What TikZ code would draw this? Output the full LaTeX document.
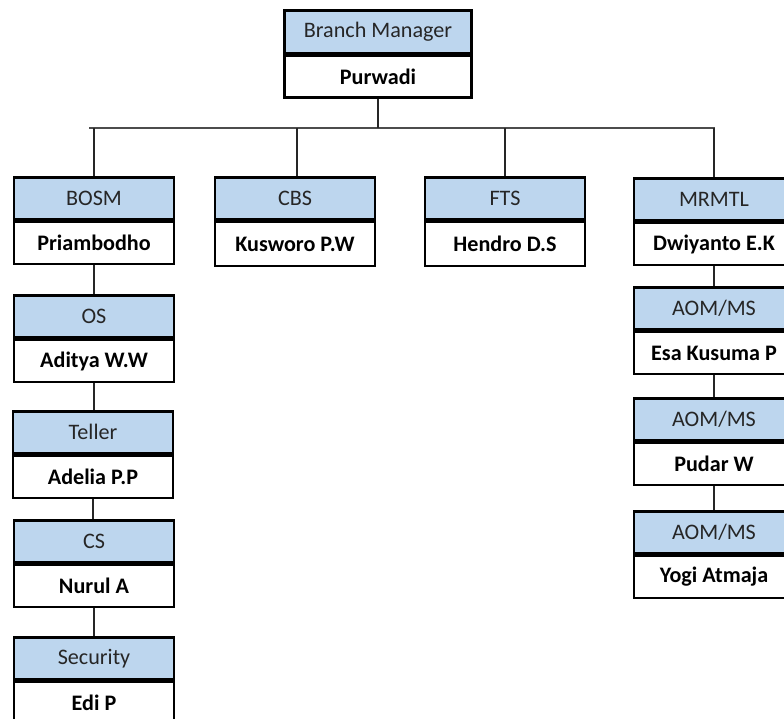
\documentclass[tikz,border=0pt]{standalone}
\usepackage{fontspec}
\setmainfont{Carlito}
\definecolor{hdrblue}{RGB}{189,214,238}
\definecolor{hdrtext}{RGB}{38,38,38}
\begin{document}
\begin{tikzpicture}[x=0.75pt,y=-0.75pt,
  box/.style={draw=black, line width=2pt, minimum width=120pt, minimum height=31.5pt, inner sep=0pt,
    font=\fontsize{16.6}{19}\selectfont, anchor=north},
  hdr/.style={box, fill=hdrblue, text=hdrtext},
  body/.style={box, fill=white, text=black, font=\fontsize{16.6}{19}\selectfont\bfseries},
  conn/.style={line width=1.1pt, draw=black!85}]
\path[use as bounding box, clip] (0,0) rectangle (784,718);
\fill[white] (0,0) rectangle (784,718);

% top
\node[hdr, minimum width=140pt, minimum height=32pt] (bmH) at (378,9) {Branch Manager};
\node[body, minimum width=140pt, minimum height=31.5pt] (bmB) at (bmH.south) {Purwadi};

% second row
\node[hdr] (bosmH) at (94,176) {BOSM};
\node[body] (bosmB) at (bosmH.south) {Priambodho};
\node[hdr] (cbsH) at (295,176) {CBS};
\node[body, minimum height=33pt] (cbsB) at (cbsH.south) {Kusworo P.W};
\node[hdr] (ftsH) at (505,176) {FTS};
\node[body, minimum height=33pt] (ftsB) at (ftsH.south) {Hendro D.S};
\node[hdr] (mrH) at (714,177) {MRMTL};
\node[body] (mrB) at (mrH.south) {Dwiyanto E.K};

% left column
\node[hdr] (osH) at (94,294) {OS};
\node[body] (osB) at (osH.south) {Aditya W.W};
\node[hdr] (telH) at (93,410) {Teller};
\node[body] (telB) at (telH.south) {Adelia P.P};
\node[hdr] (csH) at (94,519) {CS};
\node[body] (csB) at (csH.south) {Nurul A};
\node[hdr] (secH) at (94,636) {Security};
\node[body] (secB) at (secH.south) {Edi P};

% right column
\node[hdr] (aom1H) at (714,286) {AOM/MS};
\node[body] (aom1B) at (aom1H.south) {Esa Kusuma P};
\node[hdr] (aom2H) at (714,397) {AOM/MS};
\node[body] (aom2B) at (aom2H.south) {Pudar W};
\node[hdr] (aom3H) at (714,510) {AOM/MS};
\node[body] (aom3B) at (aom3H.south) {Yogi Atmaja};

% bus
\coordinate (busL) at (89,128);
\coordinate (busR) at (715,128);
\draw[line width=1pt, draw=black!70] (busL) -- (busR);
\draw[conn] (bmB.south) -- (bmB.south |- busL);
\draw[conn] (bosmH.north) -- (bosmH.north |- busL);
\draw[conn] ([xshift=1.5pt]cbsH.north) -- ([xshift=1.5pt]cbsH.north |- busL);
\draw[conn] (ftsH.north) -- (ftsH.north |- busL);
\draw[conn] (mrH.north) -- (mrH.north |- busL);

% chains
\draw[conn] (bosmB.south) -- (osH.north);
\draw[conn] (osB.south) -- (osB.south |- telH.north);
\draw[conn] (telB.south) -- (telB.south |- csH.north);
\draw[conn] (csB.south) -- (secH.north);
\draw[conn] (mrB.south) -- (aom1H.north);
\draw[conn] (aom1B.south) -- (aom2H.north);
\draw[conn] (aom2B.south) -- (aom3H.north);
\end{tikzpicture}
\end{document}
